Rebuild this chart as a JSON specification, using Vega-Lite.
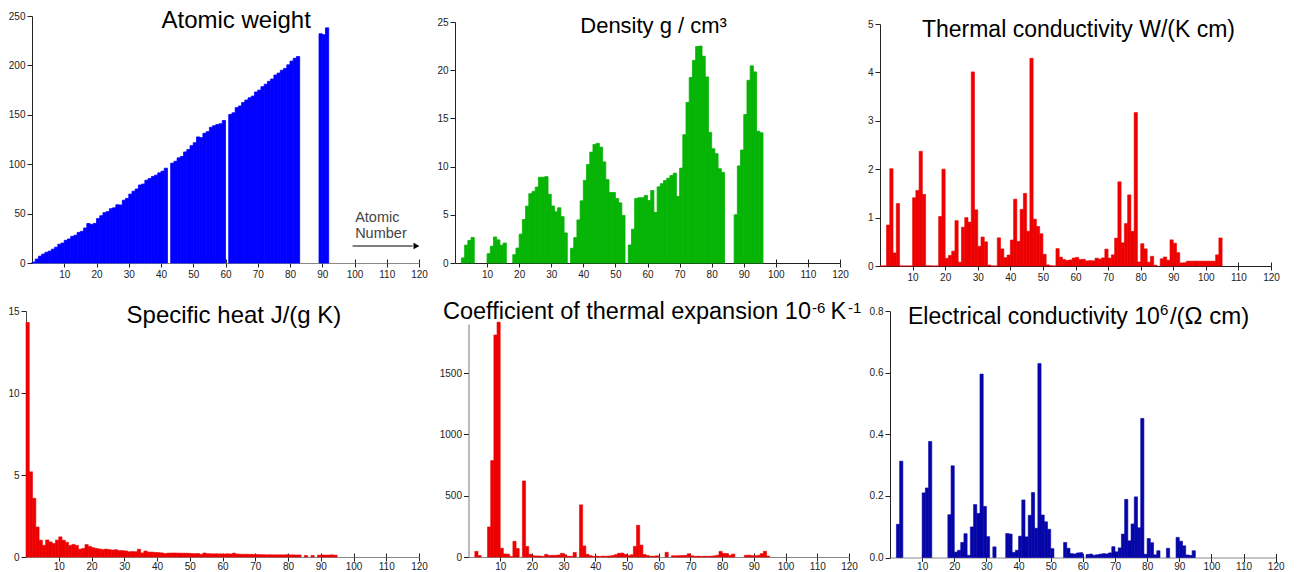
{
"$schema": "https://vega.github.io/schema/vega-lite/v6.json",
"width": 1302, "height": 572,
"autosize": {"type": "none"},
"padding": 0,
"background": "white",
"config": {
  "view": {"stroke": null},
  "axis": {"grid": false, "labelFont": "Liberation Sans", "labelFontSize": 10, "labelColor": "#222", "tickColor": "#222", "domainColor": "#222", "tickSize": 5, "labelPadding": 2, "labelFlush": false, "labelOverlap": false, "labelBound": false},
  "text": {"font": "Liberation Sans"}
},
"resolve": {"scale": {"x": "independent", "y": "independent"}, "axis": {"x": "independent", "y": "independent"}},
"datasets": {
"aw": [{"z":1,"v":1.008},{"z":2,"v":4.003},{"z":3,"v":6.94},{"z":4,"v":9.012},{"z":5,"v":10.81},{"z":6,"v":12.01},{"z":7,"v":14.01},{"z":8,"v":16.0},{"z":9,"v":19.0},{"z":10,"v":20.18},{"z":11,"v":22.99},{"z":12,"v":24.31},{"z":13,"v":26.98},{"z":14,"v":28.09},{"z":15,"v":30.97},{"z":16,"v":32.06},{"z":17,"v":35.45},{"z":18,"v":39.95},{"z":19,"v":39.1},{"z":20,"v":40.08},{"z":21,"v":44.96},{"z":22,"v":47.87},{"z":23,"v":50.94},{"z":24,"v":52.0},{"z":25,"v":54.94},{"z":26,"v":55.85},{"z":27,"v":58.93},{"z":28,"v":58.69},{"z":29,"v":63.55},{"z":30,"v":65.38},{"z":31,"v":69.72},{"z":32,"v":72.63},{"z":33,"v":74.92},{"z":34,"v":78.97},{"z":35,"v":79.9},{"z":36,"v":83.8},{"z":37,"v":85.47},{"z":38,"v":87.62},{"z":39,"v":88.91},{"z":40,"v":91.22},{"z":41,"v":92.91},{"z":42,"v":95.95},{"z":44,"v":101.07},{"z":45,"v":102.91},{"z":46,"v":106.42},{"z":47,"v":107.87},{"z":48,"v":112.41},{"z":49,"v":114.82},{"z":50,"v":118.71},{"z":51,"v":121.76},{"z":52,"v":127.6},{"z":53,"v":126.9},{"z":54,"v":131.29},{"z":55,"v":132.91},{"z":56,"v":137.33},{"z":57,"v":138.91},{"z":58,"v":140.12},{"z":59,"v":140.91},{"z":60,"v":144.24},{"z":62,"v":150.36},{"z":63,"v":151.96},{"z":64,"v":157.25},{"z":65,"v":158.93},{"z":66,"v":162.5},{"z":67,"v":164.93},{"z":68,"v":167.26},{"z":69,"v":168.93},{"z":70,"v":173.05},{"z":71,"v":174.97},{"z":72,"v":178.49},{"z":73,"v":180.95},{"z":74,"v":183.84},{"z":75,"v":186.21},{"z":76,"v":190.23},{"z":77,"v":192.22},{"z":78,"v":195.08},{"z":79,"v":196.97},{"z":80,"v":200.59},{"z":81,"v":204.38},{"z":82,"v":207.2},{"z":83,"v":208.98},{"z":90,"v":232.04},{"z":91,"v":231.04},{"z":92,"v":238.03}],
"den": [{"z":3,"v":0.53},{"z":4,"v":1.85},{"z":5,"v":2.34},{"z":6,"v":2.65},{"z":11,"v":0.97},{"z":12,"v":1.74},{"z":13,"v":2.7},{"z":14,"v":2.4},{"z":15,"v":1.85},{"z":16,"v":2.07},{"z":19,"v":0.86},{"z":20,"v":1.55},{"z":21,"v":2.99},{"z":22,"v":4.51},{"z":23,"v":5.9},{"z":24,"v":7.19},{"z":25,"v":7.43},{"z":26,"v":7.87},{"z":27,"v":8.9},{"z":28,"v":8.9},{"z":29,"v":8.96},{"z":30,"v":7.13},{"z":31,"v":5.91},{"z":32,"v":5.32},{"z":33,"v":5.73},{"z":34,"v":4.81},{"z":35,"v":3.12},{"z":37,"v":1.53},{"z":38,"v":2.64},{"z":39,"v":4.47},{"z":40,"v":6.45},{"z":41,"v":8.57},{"z":42,"v":10.22},{"z":43,"v":11.5},{"z":44,"v":12.3},{"z":45,"v":12.41},{"z":46,"v":12.02},{"z":47,"v":10.49},{"z":48,"v":8.65},{"z":49,"v":7.31},{"z":50,"v":7.31},{"z":51,"v":6.69},{"z":52,"v":6.24},{"z":53,"v":4.93},{"z":55,"v":1.87},{"z":56,"v":3.51},{"z":57,"v":6.7},{"z":58,"v":6.77},{"z":59,"v":6.77},{"z":60,"v":7.01},{"z":61,"v":6.5},{"z":62,"v":7.52},{"z":63,"v":5.24},{"z":64,"v":7.9},{"z":65,"v":8.23},{"z":66,"v":8.55},{"z":67,"v":8.8},{"z":68,"v":9.07},{"z":69,"v":9.32},{"z":70,"v":6.9},{"z":71,"v":9.84},{"z":72,"v":13.31},{"z":73,"v":16.65},{"z":74,"v":19.25},{"z":75,"v":21.02},{"z":76,"v":22.45},{"z":77,"v":22.5},{"z":78,"v":21.45},{"z":79,"v":19.3},{"z":80,"v":13.55},{"z":81,"v":11.85},{"z":82,"v":11.34},{"z":83,"v":9.78},{"z":84,"v":9.4},{"z":88,"v":5.0},{"z":89,"v":10.07},{"z":90,"v":11.72},{"z":91,"v":15.4},{"z":92,"v":18.95},{"z":93,"v":20.45},{"z":94,"v":19.82},{"z":95,"v":13.67},{"z":96,"v":13.51}],
"tc": [{"z":1,"v":0.0018},{"z":2,"v":0.0015},{"z":3,"v":0.847},{"z":4,"v":2.01},{"z":5,"v":0.27},{"z":6,"v":1.29},{"z":7,"v":0.00026},{"z":8,"v":0.00027},{"z":9,"v":0.00028},{"z":10,"v":0.00049},{"z":11,"v":1.41},{"z":12,"v":1.56},{"z":13,"v":2.37},{"z":14,"v":1.48},{"z":15,"v":0.0024},{"z":16,"v":0.0027},{"z":17,"v":0.00009},{"z":18,"v":0.00018},{"z":19,"v":1.024},{"z":20,"v":2.0},{"z":21,"v":0.158},{"z":22,"v":0.219},{"z":23,"v":0.307},{"z":24,"v":0.937},{"z":25,"v":0.0782},{"z":26,"v":0.802},{"z":27,"v":1.0},{"z":28,"v":0.907},{"z":29,"v":4.01},{"z":30,"v":1.16},{"z":31,"v":0.406},{"z":32,"v":0.599},{"z":33,"v":0.5},{"z":34,"v":0.0204},{"z":35,"v":0.0012},{"z":36,"v":0.0001},{"z":37,"v":0.582},{"z":38,"v":0.353},{"z":39,"v":0.172},{"z":40,"v":0.227},{"z":41,"v":0.537},{"z":42,"v":1.38},{"z":43,"v":0.506},{"z":44,"v":1.17},{"z":45,"v":1.5},{"z":46,"v":0.718},{"z":47,"v":4.29},{"z":48,"v":0.968},{"z":49,"v":0.816},{"z":50,"v":0.666},{"z":51,"v":0.243},{"z":52,"v":0.0235},{"z":53,"v":0.0045},{"z":54,"v":0.00006},{"z":55,"v":0.359},{"z":56,"v":0.184},{"z":57,"v":0.135},{"z":58,"v":0.114},{"z":59,"v":0.125},{"z":60,"v":0.165},{"z":61,"v":0.179},{"z":62,"v":0.133},{"z":63,"v":0.139},{"z":64,"v":0.106},{"z":65,"v":0.111},{"z":66,"v":0.107},{"z":67,"v":0.162},{"z":68,"v":0.143},{"z":69,"v":0.168},{"z":70,"v":0.349},{"z":71,"v":0.164},{"z":72,"v":0.23},{"z":73,"v":0.575},{"z":74,"v":1.74},{"z":75,"v":0.479},{"z":76,"v":0.876},{"z":77,"v":1.47},{"z":78,"v":0.716},{"z":79,"v":3.17},{"z":80,"v":0.0834},{"z":81,"v":0.461},{"z":82,"v":0.353},{"z":83,"v":0.0787},{"z":84,"v":0.2},{"z":85,"v":0.017},{"z":87,"v":0.15},{"z":88,"v":0.186},{"z":89,"v":0.12},{"z":90,"v":0.54},{"z":91,"v":0.47},{"z":92,"v":0.276},{"z":93,"v":0.063},{"z":94,"v":0.0674},{"z":95,"v":0.1},{"z":96,"v":0.1},{"z":97,"v":0.1},{"z":98,"v":0.1},{"z":99,"v":0.1},{"z":100,"v":0.1},{"z":101,"v":0.1},{"z":102,"v":0.1},{"z":103,"v":0.1},{"z":104,"v":0.23},{"z":105,"v":0.58}],
"sh": [{"z":1,"v":14.304},{"z":2,"v":5.193},{"z":3,"v":3.582},{"z":4,"v":1.825},{"z":5,"v":1.026},{"z":6,"v":0.709},{"z":7,"v":1.04},{"z":8,"v":0.918},{"z":9,"v":0.824},{"z":10,"v":1.03},{"z":11,"v":1.228},{"z":12,"v":1.023},{"z":13,"v":0.897},{"z":14,"v":0.705},{"z":15,"v":0.769},{"z":16,"v":0.71},{"z":17,"v":0.479},{"z":18,"v":0.52},{"z":19,"v":0.757},{"z":20,"v":0.647},{"z":21,"v":0.568},{"z":22,"v":0.523},{"z":23,"v":0.489},{"z":24,"v":0.449},{"z":25,"v":0.479},{"z":26,"v":0.449},{"z":27,"v":0.421},{"z":28,"v":0.444},{"z":29,"v":0.385},{"z":30,"v":0.388},{"z":31,"v":0.371},{"z":32,"v":0.32},{"z":33,"v":0.329},{"z":34,"v":0.321},{"z":35,"v":0.474},{"z":36,"v":0.248},{"z":37,"v":0.363},{"z":38,"v":0.301},{"z":39,"v":0.298},{"z":40,"v":0.278},{"z":41,"v":0.265},{"z":42,"v":0.251},{"z":43,"v":0.21},{"z":44,"v":0.238},{"z":45,"v":0.243},{"z":46,"v":0.244},{"z":47,"v":0.235},{"z":48,"v":0.232},{"z":49,"v":0.233},{"z":50,"v":0.228},{"z":51,"v":0.207},{"z":52,"v":0.202},{"z":53,"v":0.214},{"z":54,"v":0.158},{"z":55,"v":0.242},{"z":56,"v":0.204},{"z":57,"v":0.195},{"z":58,"v":0.192},{"z":59,"v":0.193},{"z":60,"v":0.19},{"z":61,"v":0.18},{"z":62,"v":0.197},{"z":63,"v":0.182},{"z":64,"v":0.236},{"z":65,"v":0.182},{"z":66,"v":0.17},{"z":67,"v":0.165},{"z":68,"v":0.168},{"z":69,"v":0.16},{"z":70,"v":0.155},{"z":71,"v":0.154},{"z":72,"v":0.144},{"z":73,"v":0.14},{"z":74,"v":0.132},{"z":75,"v":0.137},{"z":76,"v":0.13},{"z":77,"v":0.131},{"z":78,"v":0.133},{"z":79,"v":0.129},{"z":80,"v":0.14},{"z":81,"v":0.129},{"z":82,"v":0.13},{"z":83,"v":0.122},{"z":84,"v":0.125},{"z":86,"v":0.094},{"z":88,"v":0.094},{"z":90,"v":0.113},{"z":91,"v":0.12},{"z":92,"v":0.116},{"z":93,"v":0.12},{"z":94,"v":0.13},{"z":95,"v":0.11}],
"cte": [{"z":3,"v":46},{"z":4,"v":11.3},{"z":7,"v":245},{"z":8,"v":786},{"z":9,"v":1810},{"z":10,"v":1915},{"z":11,"v":71},{"z":12,"v":24.8},{"z":13,"v":23.1},{"z":14,"v":2.6},{"z":15,"v":128},{"z":16,"v":70},{"z":18,"v":620},{"z":19,"v":86},{"z":20,"v":22.3},{"z":21,"v":10.2},{"z":22,"v":8.6},{"z":23,"v":8.4},{"z":24,"v":4.9},{"z":25,"v":21.7},{"z":26,"v":11.8},{"z":27,"v":13},{"z":28,"v":13.4},{"z":29,"v":16.5},{"z":30,"v":30.2},{"z":31,"v":18},{"z":32,"v":6},{"z":33,"v":5.6},{"z":34,"v":37},{"z":36,"v":425},{"z":37,"v":90},{"z":38,"v":22.5},{"z":39,"v":10.6},{"z":40,"v":5.7},{"z":41,"v":7.3},{"z":42,"v":4.8},{"z":43,"v":7.1},{"z":44,"v":6.4},{"z":45,"v":8.2},{"z":46,"v":11.8},{"z":47,"v":18.9},{"z":48,"v":30.8},{"z":49,"v":32.1},{"z":50,"v":22},{"z":51,"v":11},{"z":52,"v":18},{"z":53,"v":87},{"z":54,"v":259},{"z":55,"v":97},{"z":56,"v":20.6},{"z":57,"v":12.1},{"z":58,"v":6.3},{"z":59,"v":6.7},{"z":60,"v":9.6},{"z":63,"v":38},{"z":65,"v":10.3},{"z":66,"v":9.9},{"z":67,"v":11.2},{"z":68,"v":12.2},{"z":69,"v":13.3},{"z":70,"v":26.3},{"z":71,"v":9.9},{"z":72,"v":5.9},{"z":73,"v":6.3},{"z":74,"v":4.5},{"z":75,"v":6.2},{"z":76,"v":5.1},{"z":77,"v":6.4},{"z":78,"v":8.8},{"z":79,"v":14.2},{"z":80,"v":46},{"z":81,"v":29.9},{"z":82,"v":28.9},{"z":83,"v":13.4},{"z":84,"v":23.5},{"z":88,"v":14},{"z":89,"v":14.9},{"z":90,"v":11},{"z":91,"v":9.6},{"z":92,"v":13.9},{"z":93,"v":27.5},{"z":94,"v":46.7},{"z":95,"v":7.5}],
"ec": [{"z":3,"v":0.108},{"z":4,"v":0.313},{"z":11,"v":0.21},{"z":12,"v":0.226},{"z":13,"v":0.377},{"z":19,"v":0.139},{"z":20,"v":0.298},{"z":21,"v":0.0177},{"z":22,"v":0.0234},{"z":23,"v":0.0489},{"z":24,"v":0.0774},{"z":25,"v":0.00695},{"z":26,"v":0.0993},{"z":27,"v":0.172},{"z":28,"v":0.143},{"z":29,"v":0.596},{"z":30,"v":0.166},{"z":31,"v":0.0678},{"z":33,"v":0.0345},{"z":37,"v":0.0779},{"z":38,"v":0.0762},{"z":39,"v":0.0166},{"z":40,"v":0.0236},{"z":41,"v":0.0693},{"z":42,"v":0.187},{"z":43,"v":0.067},{"z":44,"v":0.137},{"z":45,"v":0.211},{"z":46,"v":0.095},{"z":47,"v":0.63},{"z":48,"v":0.138},{"z":49,"v":0.116},{"z":50,"v":0.0917},{"z":51,"v":0.0288},{"z":55,"v":0.0489},{"z":56,"v":0.03},{"z":57,"v":0.0126},{"z":58,"v":0.0115},{"z":59,"v":0.0148},{"z":60,"v":0.0157},{"z":62,"v":0.00956},{"z":63,"v":0.0112},{"z":64,"v":0.00736},{"z":65,"v":0.0089},{"z":66,"v":0.0108},{"z":67,"v":0.0124},{"z":68,"v":0.0117},{"z":69,"v":0.015},{"z":70,"v":0.0351},{"z":71,"v":0.0185},{"z":72,"v":0.0312},{"z":73,"v":0.0761},{"z":74,"v":0.189},{"z":75,"v":0.0542},{"z":76,"v":0.109},{"z":77,"v":0.197},{"z":78,"v":0.0966},{"z":79,"v":0.452},{"z":80,"v":0.0104},{"z":81,"v":0.0617},{"z":82,"v":0.0481},{"z":83,"v":0.00867},{"z":84,"v":0.0219},{"z":87,"v":0.03},{"z":90,"v":0.0653},{"z":91,"v":0.0529},{"z":92,"v":0.038},{"z":93,"v":0.00822},{"z":94,"v":0.00666},{"z":95,"v":0.022}]
},
"layer": [
{
  "resolve": {"axis": {"x": "independent", "y": "independent"}},
  "layer": [
    {"data": {"name": "aw"},
     "mark": {"type": "rect", "color": "#0000ff", "stroke": "#0000ff", "strokeWidth": 0.8, "xOffset": -3.225},
     "encoding": {
       "x": {"field": "z", "type": "quantitative", "title": null, "scale": {"domain": [0, 120], "range": [32, 419], "nice": false}, "axis": {"orient": "bottom", "offset": -309, "values": [10,20,30,40,50,60,70,80,90,100,110,120], "labelOverlap": false, "labelFlush": false, "tickSize": 4, "domainColor": "#888"}},
       "x2": {"field": "z"},
       "y": {"field": "v", "type": "quantitative", "title": null, "scale": {"domain": [0, 250], "range": [263, 16], "nice": false}, "axis": {"orient": "left", "offset": -32, "values": [0,50,100,150,200,250], "format": "d"}},
       "y2": {"datum": 0}
     }},
    {"data": {"values": [{}]}, "mark": {"type": "text", "text": "Atomic weight", "fontSize": 24, "baseline": "alphabetic", "align": "center", "color": "#000"},
     "encoding": {"x": {"datum": 63.3, "axis": {"orient": "bottom", "offset": -313, "values": [10,20,30,40,50,60,70,80,90,100,110,120], "domain": false, "labels": false, "tickSize": 4}}, "y": {"datum": 237.9, "axis": null}}},
    {"data": {"values": [{}]}, "mark": {"type": "text", "text": ["Atomic", "Number"], "fontSize": 14.5, "lineHeight": 16, "baseline": "alphabetic", "align": "left", "color": "#444"},
     "encoding": {"x": {"datum": 100.2, "axis": null}, "y": {"datum": 41.5, "axis": null}}},
    {"data": {"values": [{}]}, "mark": {"type": "rule", "color": "#000", "strokeWidth": 1},
     "encoding": {"x": {"datum": 99.4, "axis": null}, "x2": {"datum": 118}, "y": {"datum": 17.2, "axis": null}}},
    {"data": {"values": [{}]}, "mark": {"type": "point", "shape": "triangle-right", "filled": true, "color": "#000", "opacity": 1, "size": 45},
     "encoding": {"x": {"datum": 119.2, "axis": null}, "y": {"datum": 17.2, "axis": null}}}
  ]
},
{
  "resolve": {"axis": {"x": "independent", "y": "independent"}},
  "layer": [
    {"data": {"name": "den"},
     "mark": {"type": "rect", "color": "#05b405", "stroke": "#05b405", "strokeWidth": 0.8, "xOffset": -3.2083},
     "encoding": {
       "x": {"field": "z", "type": "quantitative", "title": null, "scale": {"domain": [0, 120], "range": [455, 840], "nice": false}, "axis": {"orient": "bottom", "offset": -309, "values": [10,20,30,40,50,60,70,80,90,100,110,120], "labelOverlap": false, "labelFlush": false, "tickSize": 4}},
       "x2": {"field": "z"},
       "y": {"field": "v", "type": "quantitative", "title": null, "scale": {"domain": [0, 25], "range": [263, 22], "nice": false}, "axis": {"orient": "left", "offset": -455, "values": [0,5,10,15,20,25], "format": "d"}},
       "y2": {"datum": 0}
     }},
    {"data": {"values": [{}]}, "mark": {"type": "text", "text": "Density g / cm³", "fontSize": 22, "baseline": "alphabetic", "align": "center", "color": "#000"},
     "encoding": {"x": {"datum": 61.9, "axis": {"orient": "bottom", "offset": -313, "values": [10,20,30,40,50,60,70,80,90,100,110,120], "domain": false, "labels": false, "tickSize": 4}}, "y": {"datum": 23.83, "axis": null}}}
  ]
},
{
  "resolve": {"axis": {"x": "independent", "y": "independent"}},
  "layer": [
    {"data": {"name": "tc"},
     "mark": {"type": "rect", "color": "#ec0000", "stroke": "#ec0000", "strokeWidth": 0.6, "xOffset": -3.2583},
     "encoding": {
       "x": {"field": "z", "type": "quantitative", "title": null, "scale": {"domain": [0, 120], "range": [880, 1271], "nice": false}, "axis": {"orient": "bottom", "offset": -306, "values": [10,20,30,40,50,60,70,80,90,100,110,120], "labelOverlap": false, "labelFlush": false, "tickSize": 4}},
       "x2": {"field": "z"},
       "y": {"field": "v", "type": "quantitative", "title": null, "scale": {"domain": [0, 5], "range": [266, 24], "nice": false}, "axis": {"orient": "left", "offset": -880, "values": [0,1,2,3,4,5], "format": "d"}},
       "y2": {"datum": 0}
     }},
    {"data": {"values": [{}]}, "mark": {"type": "text", "text": "Thermal conductivity W/(K cm)", "fontSize": 23, "baseline": "alphabetic", "align": "center", "color": "#000"},
     "encoding": {"x": {"datum": 60.9, "axis": {"orient": "bottom", "offset": -310, "values": [10,20,30,40,50,60,70,80,90,100,110,120], "domain": false, "labels": false, "tickSize": 4}}, "y": {"datum": 4.73, "axis": null}}}
  ]
},
{
  "resolve": {"axis": {"x": "independent", "y": "independent"}},
  "layer": [
    {"data": {"name": "sh"},
     "mark": {"type": "rect", "color": "#ec0000", "stroke": "#ec0000", "strokeWidth": 0.6, "xOffset": -3.275},
     "encoding": {
       "x": {"field": "z", "type": "quantitative", "title": null, "scale": {"domain": [0, 120], "range": [26, 419], "nice": false}, "axis": {"orient": "bottom", "offset": -15, "values": [10,20,30,40,50,60,70,80,90,100,110,120], "labelOverlap": false, "labelFlush": false, "tickSize": 4, "labelPadding": 0, "domainColor": "#888"}},
       "x2": {"field": "z"},
       "y": {"field": "v", "type": "quantitative", "title": null, "scale": {"domain": [0, 15], "range": [557, 311], "nice": false}, "axis": {"orient": "left", "offset": -26, "values": [0,5,10,15], "format": "d", "domainColor": "#444"}},
       "y2": {"datum": 0}
     }},
    {"data": {"values": [{}]}, "mark": {"type": "text", "text": "Specific heat J/(g K)", "fontSize": 24, "baseline": "alphabetic", "align": "center", "color": "#000"},
     "encoding": {"x": {"datum": 63.5, "axis": {"orient": "bottom", "offset": -19, "values": [10,20,30,40,50,60,70,80,90,100,110,120], "domain": false, "labels": false, "tickSize": 4}}, "y": {"datum": 14.25, "axis": null}}}
  ]
},
{
  "resolve": {"axis": {"x": "independent", "y": "independent"}},
  "layer": [
    {"data": {"name": "cte"},
     "mark": {"type": "rect", "color": "#ec0000", "stroke": "#ec0000", "strokeWidth": 0.6, "xOffset": -3.1708},
     "encoding": {
       "x": {"field": "z", "type": "quantitative", "title": null, "scale": {"domain": [0, 120], "range": [468.5, 849], "nice": false}, "axis": {"orient": "bottom", "offset": -15, "values": [10,20,30,40,50,60,70,80,90,100,110,120], "labelOverlap": false, "labelFlush": false, "tickSize": 4, "labelPadding": 0, "domainColor": "#888"}},
       "x2": {"field": "z"},
       "y": {"field": "v", "type": "quantitative", "title": null, "scale": {"domain": [0, 1900], "range": [557, 324], "nice": false}, "axis": {"orient": "left", "offset": -468.5, "values": [0,500,1000,1500], "format": "d", "domainColor": "#777"}},
       "y2": {"datum": 0}
     }},
    {"data": {"values": [{}]}, "mark": {"type": "text", "text": "Coefficient of thermal expansion 10", "fontSize": 23.5, "baseline": "alphabetic", "align": "left", "color": "#000"},
     "encoding": {"x": {"datum": -8.04, "axis": {"orient": "bottom", "offset": -19, "values": [10,20,30,40,50,60,70,80,90,100,110,120], "domain": false, "labels": false, "tickSize": 4}}, "y": {"datum": 1938, "axis": null}}},
    {"data": {"values": [{}]}, "mark": {"type": "text", "text": "-6", "fontSize": 15, "baseline": "alphabetic", "align": "left", "color": "#000"},
     "encoding": {"x": {"datum": 108.3, "axis": null}, "y": {"datum": 1989, "axis": null}}},
    {"data": {"values": [{}]}, "mark": {"type": "text", "text": "K", "fontSize": 23.5, "baseline": "alphabetic", "align": "left", "color": "#000"},
     "encoding": {"x": {"datum": 114.2, "axis": null}, "y": {"datum": 1938, "axis": null}}},
    {"data": {"values": [{}]}, "mark": {"type": "text", "text": "-1", "fontSize": 15, "baseline": "alphabetic", "align": "left", "color": "#000"},
     "encoding": {"x": {"datum": 119.7, "axis": null}, "y": {"datum": 1989, "axis": null}}}
  ]
},
{
  "resolve": {"axis": {"x": "independent", "y": "independent"}},
  "layer": [
    {"data": {"name": "ec"},
     "mark": {"type": "rect", "color": "#0505a8", "stroke": "#0505a8", "strokeWidth": 0.6, "xOffset": -3.2142},
     "encoding": {
       "x": {"field": "z", "type": "quantitative", "title": null, "scale": {"domain": [0, 120], "range": [890, 1275.7], "nice": false}, "axis": {"orient": "bottom", "offset": -14.5, "values": [10,20,30,40,50,60,70,80,90,100,110,120], "labelOverlap": false, "labelFlush": false, "tickSize": 4, "labelPadding": 0, "domainColor": "#888"}},
       "x2": {"field": "z"},
       "y": {"field": "v", "type": "quantitative", "title": null, "scale": {"domain": [0, 0.8], "range": [557.5, 311.3], "nice": false}, "axis": {"orient": "left", "offset": -890, "values": [0,0.2,0.4,0.6,0.8], "format": ".1f"}},
       "y2": {"datum": 0}
     }},
    {"data": {"values": [{}]}, "mark": {"type": "text", "text": "Electrical conductivity 10", "fontSize": 23, "baseline": "alphabetic", "align": "left", "color": "#000"},
     "encoding": {"x": {"datum": 5.6, "axis": {"orient": "bottom", "offset": -18.5, "values": [10,20,30,40,50,60,70,80,90,100,110,120], "domain": false, "labels": false, "tickSize": 4}}, "y": {"datum": 0.7585, "axis": null}}},
    {"data": {"values": [{}]}, "mark": {"type": "text", "text": "6", "fontSize": 15, "baseline": "alphabetic", "align": "left", "color": "#000"},
     "encoding": {"x": {"datum": 84.0, "axis": null}, "y": {"datum": 0.7886, "axis": null}}},
    {"data": {"values": [{}]}, "mark": {"type": "text", "text": "/(Ω cm)", "fontSize": 24, "baseline": "alphabetic", "align": "left", "color": "#000"},
     "encoding": {"x": {"datum": 87.1, "axis": null}, "y": {"datum": 0.7585, "axis": null}}}
  ]
}
]
}
